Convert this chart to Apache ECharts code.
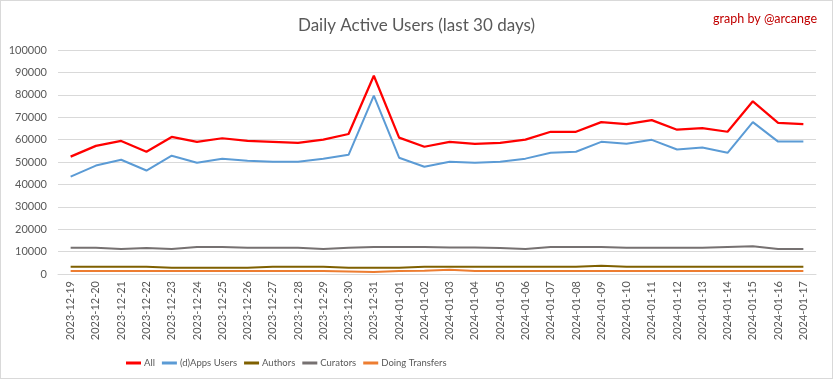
<!DOCTYPE html>
<html><head><meta charset="utf-8">
<script src="https://cdn.jsdelivr.net/npm/echarts@6/dist/echarts.min.js"></script>
<style>html,body{margin:0;padding:0;background:#fff}#c{width:833px;height:379px;box-sizing:border-box;border:1px solid #d9d9d9}</style>
</head><body><div id="c"></div>
<script>
const categories = ["2023-12-19","2023-12-20","2023-12-21","2023-12-22","2023-12-23","2023-12-24","2023-12-25","2023-12-26","2023-12-27","2023-12-28","2023-12-29","2023-12-30","2023-12-31","2024-01-01","2024-01-02","2024-01-03","2024-01-04","2024-01-05","2024-01-06","2024-01-07","2024-01-08","2024-01-09","2024-01-10","2024-01-11","2024-01-12","2024-01-13","2024-01-14","2024-01-15","2024-01-16","2024-01-17"];
const allUsers = [52400,57200,59400,54600,61200,59000,60600,59400,59000,58500,60000,62500,88500,60900,56800,59000,58100,58500,60000,63500,63500,67800,66900,68700,64400,65100,63500,77100,67500,66900];
const appsUsers = [43500,48400,51000,46200,52800,49700,51500,50600,50100,50100,51500,53200,79600,51900,47900,50100,49700,50100,51500,54100,54600,59000,58100,59900,55600,56500,54100,67800,59100,59100];
const authors = [3200,3200,3200,3200,2800,2800,2800,2800,3200,3200,3200,2800,2800,2800,3200,3200,3200,3200,3200,3200,3200,3700,3200,3200,3200,3200,3200,3200,3200,3200];
const curators = [11700,11700,11200,11600,11200,12100,12100,11700,11700,11700,11200,11700,12100,12100,12100,11800,11800,11600,11200,12000,12100,12100,11700,11700,11700,11700,12100,12400,11200,11200];
const transfers = [1300,1300,1300,1300,1300,1300,1300,1300,1300,1300,1300,1100,900,1300,1500,1900,1300,1300,1300,1300,1300,1300,1300,1300,1300,1300,1300,1300,1300,1300];
const yTicks = {min:0, max:100000, interval:10000};

const chart = echarts.init(document.getElementById('c'));
const mk = (name, data, color, w) => ({name, type:'line', data, symbol:'none', smooth:false,
  lineStyle:{color, width:w}, itemStyle:{color}});
chart.setOption({
  animation:false,
  title:[
    {text:'Daily Active Users (last 30 days)', left:'center', top:11,
     textStyle:{fontFamily:'Lato', fontSize:17, fontWeight:'normal', color:'#595959'}},
    {text:'graph by @arcange', right:10, top:6,
     textStyle:{fontFamily:'Lato', fontSize:12.5, fontWeight:'normal', color:'#c00000'}}
  ],
  legend:{left:120, top:352, itemWidth:15, itemHeight:3, icon:'rect', itemGap:7,
    textStyle:{fontFamily:'Lato', fontSize:9.5, color:'#595959', padding:[0,0,0,-2]},
    data:['All','(d)Apps Users','Authors','Curators','Doing Transfers']},
  grid:{left:57, right:16, top:49, bottom:104, containLabel:false},
  xAxis:{type:'category', data:categories, boundaryGap:true,
    axisLine:{lineStyle:{color:'#d9d9d9'}}, axisTick:{show:false},
    axisLabel:{rotate:90, interval:0, fontFamily:'Lato', fontSize:11, color:'#595959', margin:7}},
  yAxis:{type:'value', min:yTicks.min, max:yTicks.max, interval:yTicks.interval,
    axisLine:{show:false}, axisTick:{show:false},
    splitLine:{lineStyle:{color:'#d9d9d9'}},
    axisLabel:{fontFamily:'Lato', fontSize:11, color:'#595959', margin:11, formatter:v => String(v)}},
  series:[
    mk('All', allUsers, '#ff0000', 2.25),
    mk('(d)Apps Users', appsUsers, '#5b9bd5', 2),
    mk('Authors', authors, '#7f6000', 2),
    mk('Curators', curators, '#767171', 2),
    mk('Doing Transfers', transfers, '#ed7d31', 2)
  ]
});
</script></body></html>
